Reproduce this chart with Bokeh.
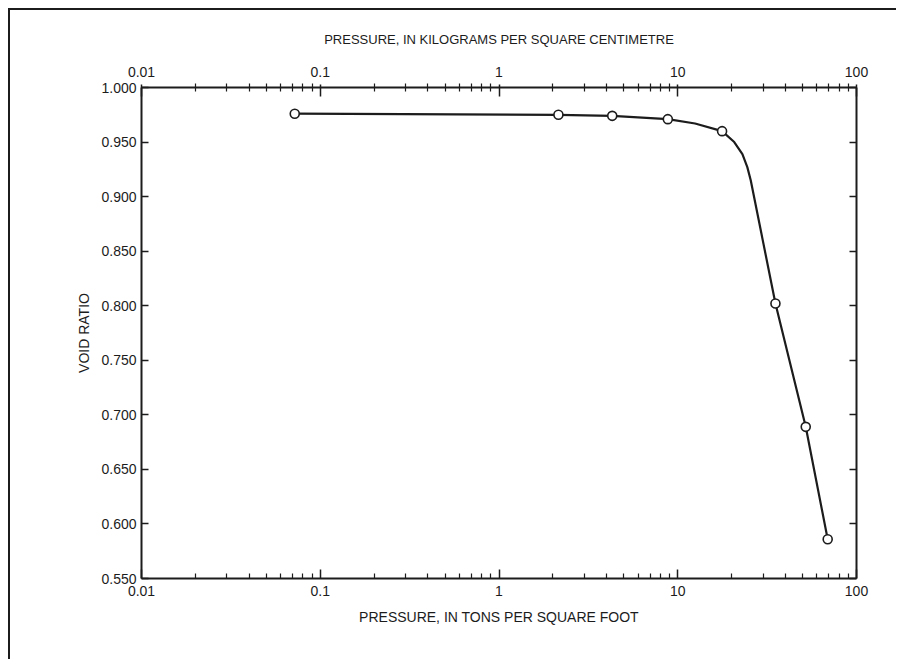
from bokeh.plotting import figure
from bokeh.models import LogAxis, LinearAxis, FixedTicker, PrintfTickFormatter, Range1d
from bokeh.embed import file_html
from bokeh.resources import INLINE

# measured points (pressure, tons per sq ft ~ kg/cm2) and void ratio
pressure = [0.072, 2.15, 4.3, 8.8, 17.7, 35.2, 52.0, 69.0]
void_ratio = [0.976, 0.975, 0.974, 0.971, 0.960, 0.802, 0.689, 0.586]

# hand-drawn fitted curve
curve_p = [0.072, 2.15, 4.3, 8.8, 12.5, 17.7, 20.7, 23.0, 24.5, 25.6, 35.2, 52.0, 69.0]
curve_e = [0.976, 0.975, 0.974, 0.971, 0.967, 0.960, 0.950, 0.939, 0.927, 0.915, 0.802, 0.689, 0.586]

x_ticks = [0.01, 0.1, 1, 10, 100]
x_tick_labels = ["0.01", "0.1", "1", "10", "100"]
x_minor = [d * m for d in [0.01, 0.1, 1, 10] for m in range(2, 10)]
y_ticks = [0.55, 0.60, 0.65, 0.70, 0.75, 0.80, 0.85, 0.90, 0.95, 1.00]

INK = "#1c1c1c"
FONT = "Liberation Sans"

p = figure(width=888, height=651, x_axis_type="log",
           x_range=Range1d(0.01, 100), y_range=Range1d(0.55, 1.0),
           output_backend="svg", toolbar_location=None,
           x_axis_location="below", y_axis_location="left",
           min_border_left=131, min_border_right=42,
           min_border_top=77, min_border_bottom=83)
p.styles = {"margin-left": "8px", "margin-top": "8px",
            "border-top": "2px solid #1c1c1c", "border-left": "2px solid #1c1c1c"}
p.grid.visible = False
p.outline_line_color = None
p.background_fill_color = "white"
p.border_fill_color = "white"

overrides = {t: l for t, l in zip(x_ticks, x_tick_labels)}

def style_axis(ax):
    ax.axis_line_color = INK
    ax.axis_line_width = 2
    ax.major_tick_line_color = INK
    ax.major_tick_line_width = 1.5
    ax.minor_tick_line_color = INK
    ax.minor_tick_line_width = 1.2
    ax.major_label_text_font = FONT
    ax.major_label_text_color = INK
    ax.major_label_text_font_size = "14px"
    ax.axis_label_text_font = FONT
    ax.axis_label_text_font_style = "normal"
    ax.axis_label_text_color = INK
    ax.axis_label_text_font_size = "13px"

# bottom axis
xb = p.xaxis[0]
style_axis(xb)
xb.ticker = FixedTicker(ticks=x_ticks, minor_ticks=x_minor)
xb.major_label_overrides = overrides
xb.major_tick_in = 9
xb.major_tick_out = 0
xb.minor_tick_in = 5
xb.minor_tick_out = 0
xb.major_label_standoff = 7
xb.axis_label = "PRESSURE, IN TONS PER SQUARE FOOT"
xb.axis_label_standoff = 10
xb.axis_label_text_font_size = "14px"

# top axis
xt = LogAxis(ticker=FixedTicker(ticks=x_ticks, minor_ticks=x_minor),
             axis_label="PRESSURE, IN KILOGRAMS PER SQUARE CENTIMETRE")
style_axis(xt)
xt.major_label_overrides = overrides
xt.major_tick_in = 9
xt.major_tick_out = 3
xt.minor_tick_in = 4
xt.minor_tick_out = 4
xt.major_label_standoff = 7
xt.axis_label_standoff = 17
p.add_layout(xt, "above")

# left axis
yl = p.yaxis[0]
style_axis(yl)
yl.ticker = FixedTicker(ticks=y_ticks, minor_ticks=[])
yl.formatter = PrintfTickFormatter(format="%.3f")
yl.major_tick_in = 7
yl.major_tick_out = 0
yl.minor_tick_in = 0
yl.minor_tick_out = 0
yl.major_label_standoff = 5
yl.axis_label = "VOID RATIO"
yl.axis_label_standoff = 6
yl.axis_label_text_font_size = "14px"

# right axis (ticks only)
yr = LinearAxis(ticker=FixedTicker(ticks=y_ticks, minor_ticks=[]))
style_axis(yr)
yr.major_label_overrides = {t: "" for t in y_ticks}
yr.major_tick_in = 7
yr.major_tick_out = 0
p.add_layout(yr, "right")

p.line(curve_p, curve_e, line_color=INK, line_width=2.2)
p.scatter(pressure, void_ratio, marker="circle", size=9,
          fill_color="white", line_color=INK, line_width=1.6)

open("out.html", "w").write(file_html(p, INLINE))
